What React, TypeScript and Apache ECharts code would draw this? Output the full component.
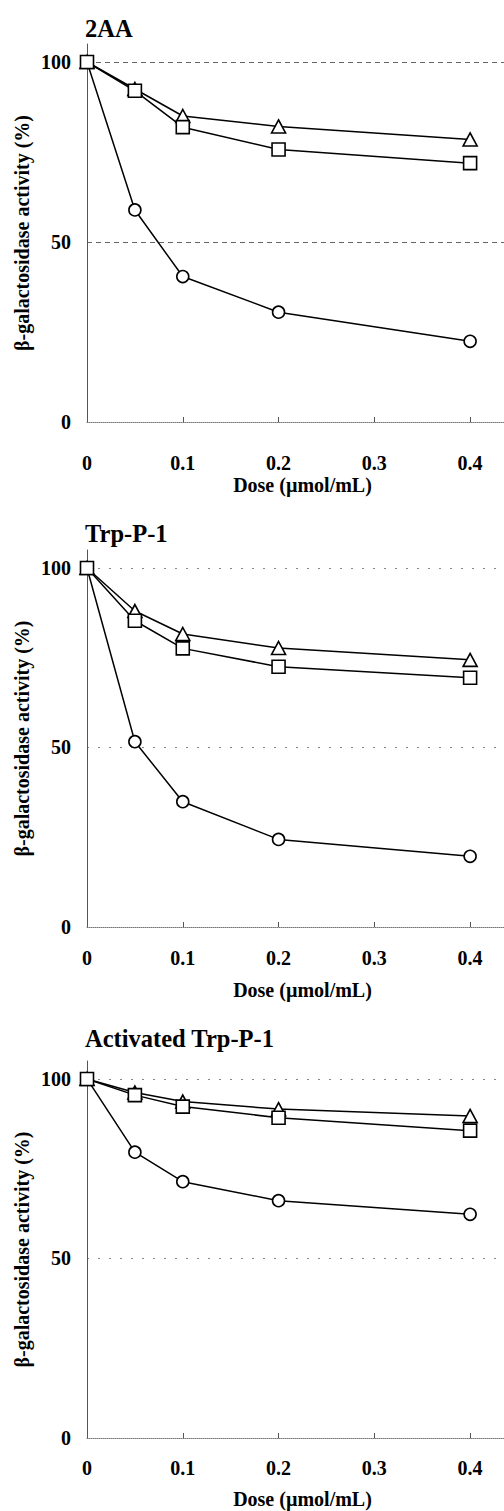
import React, { useEffect, useRef } from "react";
import * as echarts from "echarts";

const doses = [0, 0.05, 0.1, 0.2, 0.4];
const xTickLabels = [0, 0.1, 0.2, 0.3, 0.4];
const yTickLabels = [0, 50, 100];
const panelTitles = ["2AA", "Trp-P-1", "Activated Trp-P-1"];

const aa2Circle = [100, 58.9, 40.4, 30.5, 22.4];
const aa2Triangle = [100, 92.5, 85.0, 82.1, 78.5];
const aa2Square = [100, 92.0, 81.9, 75.7, 71.9];

const trpCircle = [100, 51.6, 34.9, 24.4, 19.7];
const trpTriangle = [100, 88.0, 81.6, 77.7, 74.4];
const trpSquare = [100, 85.3, 77.6, 72.5, 69.4];

const actCircle = [100, 79.6, 71.4, 66.1, 62.3];
const actTriangle = [100, 96.2, 93.7, 91.6, 89.7];
const actSquare = [100, 95.5, 92.3, 89.2, 85.6];

const panelData = [
  [aa2Circle, aa2Triangle, aa2Square],
  [trpCircle, trpTriangle, trpSquare],
  [actCircle, actTriangle, actSquare],
];
const symbols = ["circle", "triangle", "rect"];

const FONT = "'Liberation Serif', 'Times New Roman', serif";

export default function App() {
  const ref = useRef<HTMLDivElement>(null);
  useEffect(() => {
    if (!ref.current) return;
    const chart = echarts.init(ref.current, undefined, { renderer: "svg" });
    const gridTops = [44, 550, 1061];
    const gridHeights = [378, 377, 377];
    const titleTops = [16, 521, 1026];
    const labelMargins = [31, 21, 20];
    const nameGaps = [53, 53, 51];
    const gridDash = [
      { type: [5, 4], color: "#666" },
      { type: [2, 9], color: "#888" },
      { type: [2, 9], color: "#888" },
    ];
    const grids = gridTops.map((t, i) => ({
      left: 87,
      top: t,
      width: 431,
      height: gridHeights[i],
      containLabel: false,
      outerBoundsMode: "none",
    }));
    const xAxes = gridTops.map((_, i) => ({
      type: "value",
      gridIndex: i,
      min: 0,
      max: 0.45,
      interval: 0.1,
      name: "Dose (\u00b5mol/mL)",
      nameLocation: "middle",
      nameGap: nameGaps[i],
      nameMoveOverlap: false,
      nameTextStyle: { fontFamily: FONT, fontWeight: "bold", fontSize: 20, color: "#000" },
      axisLine: { show: true, lineStyle: { color: "#777", type: [1, 1], width: 1 } },
      axisTick: { show: true, inside: true, length: 5, lineStyle: { color: "#555" }, customValues: xTickLabels },
      axisLabel: {
        customValues: xTickLabels,
        margin: labelMargins[i],
        fontFamily: FONT,
        fontWeight: "bold",
        fontSize: 20,
        color: "#000",
      },
      splitLine: { show: false },
    }));
    const yAxes = gridTops.map((_, i) => ({
      type: "value",
      gridIndex: i,
      min: 0,
      max: 105,
      interval: 50,
      name: "\u03b2-galactosidase activity (%)",
      nameLocation: "middle",
      nameGap: 55,
      nameMoveOverlap: false,
      nameTextStyle: { fontFamily: FONT, fontWeight: "bold", fontSize: 20, color: "#000" },
      axisLine: { show: true, lineStyle: { color: "#555", width: 1 } },
      axisTick: { show: false },
      axisLabel: {
        customValues: yTickLabels,
        margin: 16,
        fontFamily: FONT,
        fontWeight: "bold",
        fontSize: 20,
        color: "#000",
      },
      splitLine: {
        show: true,
        showMinLine: false,
        showMaxLine: false,
        lineStyle: { color: gridDash[i].color, type: gridDash[i].type, width: 1 },
      },
    }));
    const series: any[] = [];
    panelData.forEach((sets, p) => {
      sets.forEach((vals, s) => {
        series.push({
          type: "line",
          xAxisIndex: p,
          yAxisIndex: p,
          data: doses.map((d, k) => [d, vals[k]]),
          symbol: symbols[s],
          symbolSize: s === 1 ? [14, 13] : s === 2 ? 13 : 12,
          showAllSymbol: true,
          lineStyle: { color: "#000", width: 1.5 },
          itemStyle: { color: "#fff", borderColor: "#000", borderWidth: 1.6 },
          z: 2 + s,
        });
      });
    });
    chart.setOption({
      animation: false,
      backgroundColor: "#fff",
      title: panelTitles.map((t, i) => ({
        text: t,
        left: 85,
        top: titleTops[i],
        padding: 0,
        textStyle: { fontFamily: FONT, fontWeight: "bold", fontSize: 24.5, color: "#000" },
      })),
      grid: grids,
      xAxis: xAxes,
      yAxis: yAxes,
      series,
    });
    return () => chart.dispose();
  }, []);
  return (
    <div
      style={{
        position: "absolute",
        left: 0,
        top: 0,
        width: 504,
        height: 1511,
        overflow: "hidden",
        background: "#fff",
      }}
    >
      <div ref={ref} style={{ width: 548, height: 1511 }} />
    </div>
  );
}
